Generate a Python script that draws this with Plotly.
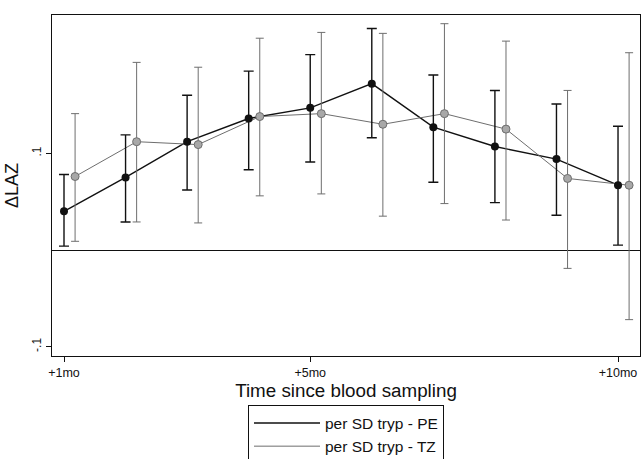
import plotly.graph_objects as go

# ---- data ----
months = [1, 2, 3, 4, 5, 6, 7, 8, 9, 10]
tz_offset = 0.18  # TZ estimates drawn slightly to the right of PE

pe_est = [0.040, 0.075, 0.112, 0.136, 0.147, 0.172, 0.127, 0.107, 0.094, 0.067]
pe_hi  = [0.078, 0.119, 0.160, 0.185, 0.202, 0.229, 0.181, 0.165, 0.151, 0.128]
pe_lo  = [0.004, 0.029, 0.062, 0.083, 0.091, 0.116, 0.070, 0.049, 0.036, 0.005]

tz_est = [0.076, 0.112, 0.109, 0.138, 0.141, 0.130, 0.141, 0.125, 0.074, 0.067]
tz_hi  = [0.141, 0.194, 0.189, 0.219, 0.225, 0.224, 0.234, 0.216, 0.165, 0.204]
tz_lo  = [0.009, 0.029, 0.028, 0.056, 0.058, 0.035, 0.048, 0.031, -0.019, -0.072]

x_tickvals = [1, 5, 10]
x_ticktext = ["+1mo", "+5mo", "+10mo"]
y_tickvals = [-0.1, 0.1]
y_ticktext = ["-.1", ".1"]

series_names = ["per SD tryp - PE", "per SD tryp - TZ"]

# ---- styling ----
PE_COLOR = "#111111"
TZ_COLOR = "#6e6e6e"
FONT = "Liberation Sans, Arial, sans-serif"

tz_x = [m + tz_offset for m in months]

fig = go.Figure()

# Lines (legend entries)
fig.add_trace(go.Scatter(x=months, y=pe_est, mode="lines", name=series_names[0],
                         line=dict(color=PE_COLOR, width=1.4), showlegend=True))
fig.add_trace(go.Scatter(x=tz_x, y=tz_est, mode="lines", name=series_names[1],
                         line=dict(color=TZ_COLOR, width=1.0), showlegend=True))

# Markers with CIs
fig.add_trace(go.Scatter(
    x=months, y=pe_est, mode="markers", showlegend=False,
    marker=dict(color=PE_COLOR, size=8, symbol="circle"),
    error_y=dict(type="data", symmetric=False,
                 array=[h - e for h, e in zip(pe_hi, pe_est)],
                 arrayminus=[e - l for e, l in zip(pe_est, pe_lo)],
                 color=PE_COLOR, thickness=1.4, width=5)))
fig.add_trace(go.Scatter(
    x=tz_x, y=tz_est, mode="markers", showlegend=False,
    marker=dict(color="#a8a8a8", size=8, symbol="circle",
                line=dict(color=TZ_COLOR, width=1)),
    error_y=dict(type="data", symmetric=False,
                 array=[h - e for h, e in zip(tz_hi, tz_est)],
                 arrayminus=[e - l for e, l in zip(tz_est, tz_lo)],
                 color=TZ_COLOR, thickness=1.0, width=4)))

fig.update_layout(
    width=641, height=459,
    margin=dict(l=52, r=1, t=15, b=103, autoexpand=False),
    paper_bgcolor="white", plot_bgcolor="white",
    font=dict(family=FONT, color="#111111"),
    showlegend=True,
    legend=dict(x=0.5, xanchor="center", y=-0.145, yanchor="top",
                bordercolor="#111111", borderwidth=1, bgcolor="white",
                font=dict(size=15.5, family=FONT), tracegroupgap=0,
                itemwidth=66),
    xaxis=dict(range=[0.805, 10.357], tickvals=x_tickvals, ticktext=x_ticktext,
               showgrid=False, zeroline=False, showline=True, mirror=True,
               linecolor="#111111", linewidth=1, ticks="outside", ticklen=5,
               tickcolor="#111111", tickfont=dict(size=12.5),
               title=dict(text="Time since blood sampling", font=dict(size=18.8),
                          standoff=2)),
    yaxis=dict(range=[-0.1096, 0.243], tickvals=y_tickvals, ticktext=y_ticktext,
               showgrid=False, zeroline=True, zerolinecolor="#111111", zerolinewidth=1,
               showline=True, mirror=True, linecolor="#111111", linewidth=1,
               ticks="outside", ticklen=5, tickcolor="#111111",
               tickangle=-90, tickfont=dict(size=12),
               title=dict(text="ΔLAZ", font=dict(size=18), standoff=6)),
)

# remove the page's default body margin so the 641x459 figure fills the window
page_css = "document.body.style.margin='0';document.body.style.overflow='hidden';"
fig.write_html("out.html", post_script=page_css,
               config={"displayModeBar": False})
